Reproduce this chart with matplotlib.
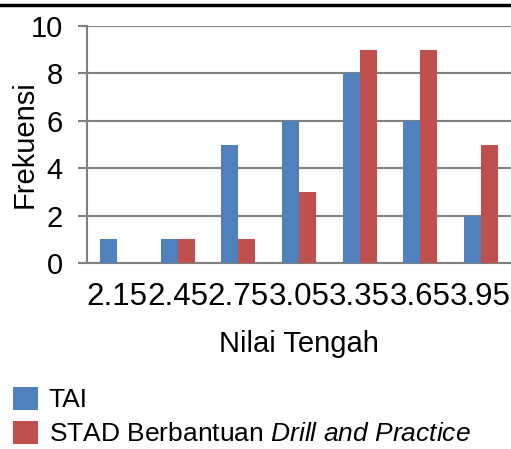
import matplotlib
matplotlib.use("Agg")
import matplotlib.pyplot as plt
from matplotlib.lines import Line2D
import numpy as np

categories = ["2.15", "2.45", "2.75", "3.05", "3.35", "3.65", "3.95"]
tai = [1, 1, 5, 6, 8, 6, 2]
stad = [0, 1, 1, 3, 9, 9, 5]
yticks = [0, 2, 4, 6, 8, 10]

plt.rcParams['font.family'] = ['Liberation Sans', 'DejaVu Sans']
plt.rcParams['mathtext.fontset'] = 'custom'
plt.rcParams['mathtext.rm'] = 'Liberation Sans'
plt.rcParams['mathtext.it'] = 'Liberation Sans:italic'

W, H = 511, 449
fig = plt.figure(figsize=(W / 100, H / 100), dpi=100)
ax = fig.add_axes([87 / W, 1 - 263 / H, 1 - 87 / W, (263 - 26) / H])

blue = "#4F81BD"
red = "#C0504D"
grid = "#808080"

x = np.arange(len(categories))
bw = 0.28
ax.bar(x - bw / 2, tai, width=bw, color=blue, zorder=3, label="TAI")
ax.bar(x + bw / 2, stad, width=bw, color=red, zorder=3,
       label="STAD Berbantuan $\\mathit{Drill\\ and\\ Practice}$")

ax.set_xlim(-0.5, len(categories) - 0.5)
ax.set_ylim(0, 10)
ax.set_yticks(yticks)
ax.set_xticks(x)
ax.set_xticklabels(categories)
ax.yaxis.grid(True, color=grid, linewidth=1.5, zorder=0)
ax.set_axisbelow(True)

for s in ["top", "right"]:
    ax.spines[s].set_visible(False)
ax.spines["left"].set_color(grid)
ax.spines["left"].set_linewidth(1.5)
ax.spines["bottom"].set_color(grid)
ax.spines["bottom"].set_linewidth(1.5)

ax.tick_params(axis="y", length=6.5, width=1.5, color=grid, pad=11, labelsize=21)
ax.tick_params(axis="x", length=0, pad=14, labelsize=22.5)
ax.set_xlabel("Nilai Tengah", fontsize=21, labelpad=13)
ax.set_ylabel("Frekuensi", fontsize=21)
ax.yaxis.set_label_coords((39 - 87) / (W - 87), 0.5)

fig.add_artist(Line2D([0, 1], [1 - 5 / H, 1 - 5 / H], color="black", linewidth=2.5,
                      transform=fig.transFigure))

handles, labels = ax.get_legend_handles_labels()
fig.legend(handles, labels, loc="upper left", bbox_to_anchor=(13 / W, 1 - 387 / H),
           frameon=False, fontsize=19, borderpad=0, borderaxespad=0,
           handlelength=0.95, handleheight=0.95, handletextpad=0.4,
           labelspacing=0.32)

fig.savefig("out.png", dpi=100)
